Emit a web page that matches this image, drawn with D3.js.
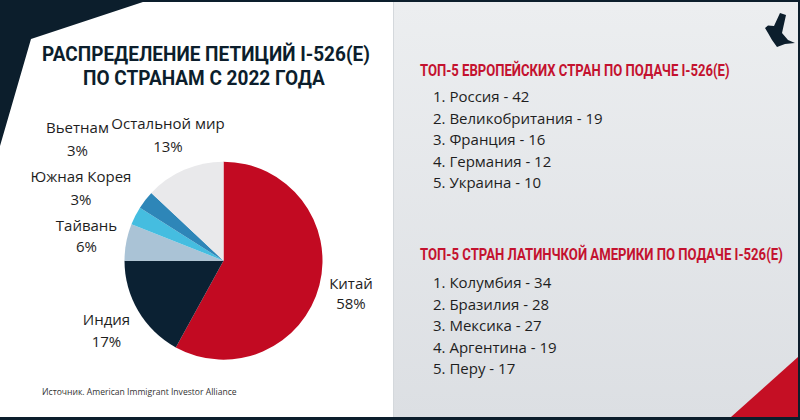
<!DOCTYPE html>
<html><head><meta charset="utf-8">
<script src="https://cdn.jsdelivr.net/npm/d3@7"></script>
<style>html,body{margin:0;padding:0;background:#0c1e2c;}svg{display:block;}</style>
</head><body>
<svg id="chart" width="800" height="420"></svg>
<script>
// ---- data ----
const categories = ["Китай", "Индия", "Тайвань", "Южная Корея", "Вьетнам", "Остальной мир"];
const shares = [58, 17, 6, 3, 3, 13];
const sliceColors = ["#c20a22", "#0b2133", "#aac3d6", "#45bde0", "#2e86b8", "#e9e9eb"];

const euroCountries = ["Россия", "Великобритания", "Франция", "Германия", "Украина"];
const euroValues = [42, 19, 16, 12, 10];
const latamCountries = ["Колумбия", "Бразилия", "Мексика", "Аргентина", "Перу"];
const latamValues = [34, 28, 27, 19, 17];

const titleLines = ["РАСПРЕДЕЛЕНИЕ ПЕТИЦИЙ I-526(E)", "ПО СТРАНАМ С 2022 ГОДА"];
const euroHeading = "ТОП-5 ЕВРОПЕЙСКИХ СТРАН ПО ПОДАЧЕ I-526(E)";
const latamHeading = "ТОП-5 СТРАН ЛАТИНЧКОЙ АМЕРИКИ ПО ПОДАЧЕ I-526(E)";
const sourceText = "Источник. American Immigrant Investor Alliance";

// ---- layout ----
const svg = d3.select("#chart");
const navy = "#0c1e2c";
const red = "#c4122f";
const labelFont = "'Open Sans', 'Noto Sans', sans-serif";
const headFont = "Roboto, 'Liberation Sans', sans-serif";

const defs = svg.append("defs");
const grad = defs.append("linearGradient").attr("id", "rg").attr("x1", 0).attr("y1", 0).attr("x2", 0).attr("y2", 1);
grad.append("stop").attr("offset", "0%").attr("stop-color", "#eceef0");
grad.append("stop").attr("offset", "100%").attr("stop-color", "#dcdfe3");

svg.append("rect").attr("width", 800).attr("height", 420).attr("fill", navy);
svg.append("rect").attr("x", 0).attr("y", 2).attr("width", 393).attr("height", 415).attr("fill", "#ffffff");
svg.append("rect").attr("x", 393).attr("y", 2).attr("width", 405).attr("height", 415).attr("fill", "url(#rg)");
svg.append("line").attr("x1", 393.5).attr("x2", 393.5).attr("y1", 2).attr("y2", 417).attr("stroke", "#d4d8dc").attr("stroke-width", 1);

// decorative corner shapes
svg.append("path").attr("d", "M0,0 L149,0 L31,39 L0,146 Z").attr("fill", navy);
svg.append("path").attr("d", "M731,417 L798,357 L798,417 Z").attr("fill", "#c50f24");

// bird icon
svg.append("path")
  .attr("d", "M765,28 L768,25.5 L774,26 L780,13 L786,15 L782,33 L788,40 L795,43 L785,44 L777,47 L772,40 L768,33 Z")
  .attr("fill", navy);

// helper: text squeezed horizontally to a target width
function squeezed(parent, str, x, y, width, attrs) {
  const gg = parent.append("g");
  const t = gg.append("text").attr("x", 0).attr("y", 0).text(str);
  Object.entries(attrs).forEach(([k, v]) => t.attr(k, v));
  const w = t.node().getComputedTextLength();
  gg.attr("transform", `translate(${x},${y}) scale(${width / w},1)`);
  return t;
}

// title
const tLayout = [{x: 42, y: 61, len: 328}, {x: 83, y: 85, len: 242}];
titleLines.forEach((s, i) => squeezed(svg, s, tLayout[i].x, tLayout[i].y, tLayout[i].len,
  {"font-family": headFont, "font-weight": 700, "font-size": 20, "fill": navy}));

// pie
const cx = 223.5, cy = 260.7, R = 99;
const pie = d3.pie().sort(null).value(d => d.v);
const arc = d3.arc().innerRadius(0).outerRadius(R);
const pieData = categories.map((c, i) => ({c, v: shares[i], col: sliceColors[i]}));
const g = svg.append("g").attr("transform", `translate(${cx},${cy})`);
g.selectAll("path").data(pie(pieData)).join("path")
  .attr("d", arc).attr("fill", d => d.data.col);

// slice labels (placed beside the pie)
const labelPos = {
  "Китай": [351, 289, 309],
  "Индия": [106.5, 325, 347],
  "Тайвань": [86.5, 231, 252],
  "Южная Корея": [81, 182, 205],
  "Вьетнам": [77.5, 133, 156],
  "Остальной мир": [168, 129, 152]
};
const lab = svg.append("g").attr("font-family", labelFont).attr("font-size", 15).attr("fill", "#1e1e1e").attr("text-anchor", "middle");
pieData.forEach(d => {
  const p = labelPos[d.c];
  lab.append("text").attr("x", p[0]).attr("y", p[1]).text(d.c);
  lab.append("text").attr("x", p[0]).attr("y", p[2]).text(d.v + "%");
});

// source
squeezed(svg, sourceText, 42, 395, 195, {"font-family": labelFont, "font-size": 8.5, "fill": "#333"});

// right panel lists
function block(heading, hy, hlen, names, vals, y0) {
  squeezed(svg, heading, 420, hy, hlen,
    {"font-family": headFont, "font-weight": 700, "font-size": 16.5, "fill": red});
  const y = d3.scalePoint().domain(names).range([y0, y0 + 86]);
  svg.append("g").selectAll("text").data(names).join("text")
    .attr("x", 433).attr("y", d => y(d))
    .attr("font-family", labelFont).attr("font-size", 15).attr("fill", "#1e1e1e")
    .text((d, i) => `${i + 1}. ${d} - ${vals[i]}`);
}
block(euroHeading, 76, 310, euroCountries, euroValues, 102);
block(latamHeading, 260, 363, latamCountries, latamValues, 288);
</script>
</body></html>
